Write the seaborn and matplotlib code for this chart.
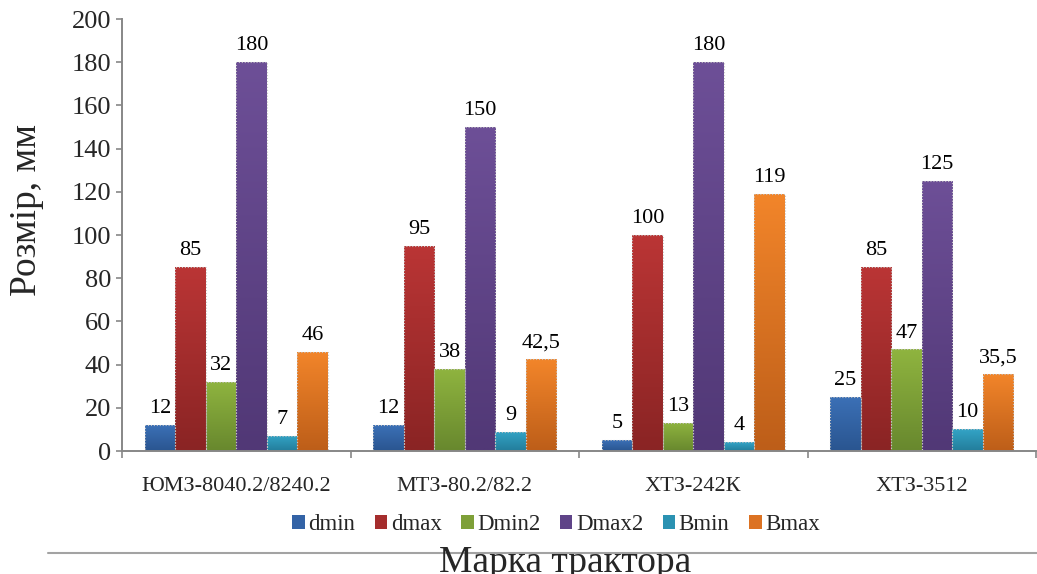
import numpy as np
import pandas as pd
import seaborn as sns
import matplotlib
matplotlib.use("Agg")
import matplotlib.pyplot as plt
from matplotlib.patches import Patch
from matplotlib.lines import Line2D
from matplotlib.colors import to_rgb

# ---- data ----
categories = ["ЮМЗ-8040.2/8240.2", "МТЗ-80.2/82.2", "ХТЗ-242К", "ХТЗ-3512"]
series = ["dmin", "dmax", "Dmin2", "Dmax2", "Bmin", "Bmax"]
dmin = [12, 12, 5, 25]
dmax = [85, 95, 100, 85]
Dmin2 = [32, 38, 13, 47]
Dmax2 = [180, 150, 180, 125]
Bmin = [7, 9, 4, 10]
Bmax = [46, 42.5, 119, 35.5]
y_ticks = [0, 20, 40, 60, 80, 100, 120, 140, 160, 180, 200]

values = {"dmin": dmin, "dmax": dmax, "Dmin2": Dmin2, "Dmax2": Dmax2, "Bmin": Bmin, "Bmax": Bmax}

rows = []
for s in series:
    for c, v in zip(categories, values[s]):
        rows.append({"cat": c, "series": s, "val": v})
df = pd.DataFrame(rows)

top_colors = {"dmin": "#3b70b6", "dmax": "#ba3535", "Dmin2": "#8fb43f",
              "Dmax2": "#6d4f97", "Bmin": "#33a4c6", "Bmax": "#f2852a"}
bot_colors = {"dmin": "#2a5590", "dmax": "#8a2424", "Dmin2": "#68882e",
              "Dmax2": "#513876", "Bmin": "#237d9b", "Bmax": "#bd5e19"}
mid_colors = {"dmin": "#3363a6", "dmax": "#a52d2d", "Dmin2": "#7ea038",
              "Dmax2": "#5f4488", "Bmin": "#2b92b2", "Bmax": "#dc7222"}

sns.set_theme(style="white")
plt.rcParams["font.family"] = ["Liberation Serif", "DejaVu Serif"]

W, H = 1037, 574
fig = plt.figure(figsize=(W / 100, H / 100), dpi=100)
ax = fig.add_axes([122 / W, 1 - 451 / H, (1036 - 122) / W, (451 - 19) / H])

sns.barplot(data=df, x="cat", y="val", hue="series", hue_order=series,
            order=categories, palette=[mid_colors[s] for s in series],
            width=0.8, gap=0, legend=False, ax=ax, saturation=1, errorbar=None)

def fmt(v):
    s = f"{v:g}"
    return s.replace(".", ",")

for cont, s in zip(ax.containers, series):
    c_top = np.array(to_rgb(top_colors[s]))
    c_bot = np.array(to_rgb(bot_colors[s]))
    t = np.linspace(0, 1, 64)[:, None, None]
    grad = c_top[None, None, :] * (1 - t) + c_bot[None, None, :] * t
    for p in cont.patches:
        x0, y0, w, h = p.get_x(), p.get_y(), p.get_width(), p.get_height()
        im = ax.imshow(grad, extent=[x0, x0 + w, y0, y0 + h], aspect="auto",
                       origin="upper", zorder=p.get_zorder() - 0.05, interpolation="bilinear")
        im.set_clip_path(p)
        p.set_facecolor("none")
        p.set_edgecolor("#c4c4c4")
        p.set_linestyle(":")
        p.set_linewidth(0.8)
    ax.bar_label(cont, labels=[fmt(v) for v in values[s]], padding=5,
                 fontsize=16, color="black")

ax.set_xlim(-0.5, len(categories) - 0.5)
ax.set_ylim(0, 200)
ax.set_yticks(y_ticks)
ax.set_xlabel("")
ax.set_ylabel("")

for side in ["top", "right"]:
    ax.spines[side].set_visible(False)
for side in ["left", "bottom"]:
    ax.spines[side].set_color("#878787")
    ax.spines[side].set_linewidth(1.4)

ax.tick_params(axis="y", which="major", left=True, length=4.5, width=1.2,
               color="#878787", pad=3.5, labelsize=19)
ax.set_xticks(np.arange(-0.5, len(categories), 1.0), minor=True)
ax.tick_params(axis="x", which="minor", bottom=True, length=5, width=1.2,
               color="#878787", direction="out")
ax.tick_params(axis="x", which="major", bottom=False, length=0, pad=19, labelsize=16)
ax.grid(False)

# y label
fig.text(27 / W, 1 - 210 / H, "Розмір, мм", rotation=90, ha="center", va="center",
         fontsize=27)

# legend
handles = [Patch(facecolor=mid_colors[s], edgecolor="none", label=s) for s in series]
fig.legend(handles=handles, loc="center", bbox_to_anchor=(556 / W, 1 - 525 / H),
           ncol=6, frameon=False, fontsize=16.5, handlelength=0.55, handleheight=0.55,
           handletextpad=0.15, columnspacing=0.85)

# separator line and x label (cut off at the bottom like the reference)
fig.add_artist(Line2D([48 / W, 1.0], [1 - 553 / H, 1 - 553 / H], color="#a3a3a3", lw=1.5))
fig.text(565 / W, (H - 572) / H, "Марка трактора", ha="center", va="baseline", fontsize=27)

fig.savefig("out.png", dpi=100)
